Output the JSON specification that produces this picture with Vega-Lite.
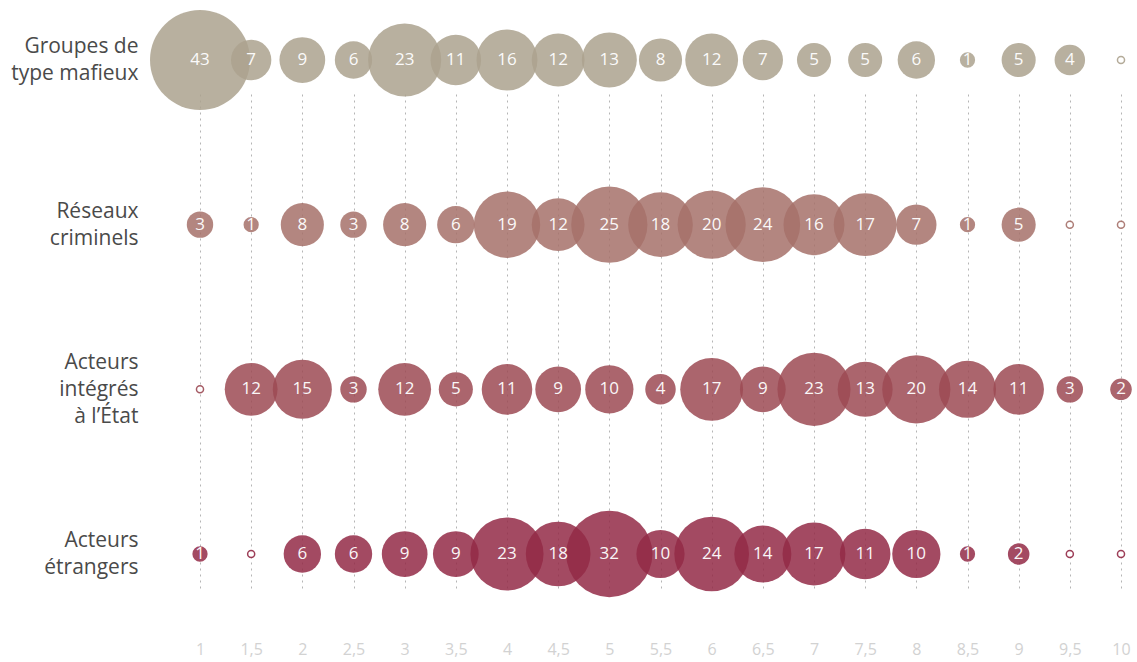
{
  "$schema": "https://vega.github.io/schema/vega-lite/v6.json",
  "autosize": {"type": "none"},
  "padding": {"left": 200, "top": 15, "right": 16, "bottom": 29},
  "width": 921,
  "height": 618,
  "background": "white",
  "config": {"view": {"stroke": null}, "font": "Open Sans"},
  "data": {"values": [
    {"group": "Groupes de type mafieux", "x": 1, "value": 43},
    {"group": "Groupes de type mafieux", "x": 1.5, "value": 7},
    {"group": "Groupes de type mafieux", "x": 2, "value": 9},
    {"group": "Groupes de type mafieux", "x": 2.5, "value": 6},
    {"group": "Groupes de type mafieux", "x": 3, "value": 23},
    {"group": "Groupes de type mafieux", "x": 3.5, "value": 11},
    {"group": "Groupes de type mafieux", "x": 4, "value": 16},
    {"group": "Groupes de type mafieux", "x": 4.5, "value": 12},
    {"group": "Groupes de type mafieux", "x": 5, "value": 13},
    {"group": "Groupes de type mafieux", "x": 5.5, "value": 8},
    {"group": "Groupes de type mafieux", "x": 6, "value": 12},
    {"group": "Groupes de type mafieux", "x": 6.5, "value": 7},
    {"group": "Groupes de type mafieux", "x": 7, "value": 5},
    {"group": "Groupes de type mafieux", "x": 7.5, "value": 5},
    {"group": "Groupes de type mafieux", "x": 8, "value": 6},
    {"group": "Groupes de type mafieux", "x": 8.5, "value": 1},
    {"group": "Groupes de type mafieux", "x": 9, "value": 5},
    {"group": "Groupes de type mafieux", "x": 9.5, "value": 4},
    {"group": "Groupes de type mafieux", "x": 10, "value": 0},
    {"group": "Réseaux criminels", "x": 1, "value": 3},
    {"group": "Réseaux criminels", "x": 1.5, "value": 1},
    {"group": "Réseaux criminels", "x": 2, "value": 8},
    {"group": "Réseaux criminels", "x": 2.5, "value": 3},
    {"group": "Réseaux criminels", "x": 3, "value": 8},
    {"group": "Réseaux criminels", "x": 3.5, "value": 6},
    {"group": "Réseaux criminels", "x": 4, "value": 19},
    {"group": "Réseaux criminels", "x": 4.5, "value": 12},
    {"group": "Réseaux criminels", "x": 5, "value": 25},
    {"group": "Réseaux criminels", "x": 5.5, "value": 18},
    {"group": "Réseaux criminels", "x": 6, "value": 20},
    {"group": "Réseaux criminels", "x": 6.5, "value": 24},
    {"group": "Réseaux criminels", "x": 7, "value": 16},
    {"group": "Réseaux criminels", "x": 7.5, "value": 17},
    {"group": "Réseaux criminels", "x": 8, "value": 7},
    {"group": "Réseaux criminels", "x": 8.5, "value": 1},
    {"group": "Réseaux criminels", "x": 9, "value": 5},
    {"group": "Réseaux criminels", "x": 9.5, "value": 0},
    {"group": "Réseaux criminels", "x": 10, "value": 0},
    {"group": "Acteurs intégrés à l’État", "x": 1, "value": 0},
    {"group": "Acteurs intégrés à l’État", "x": 1.5, "value": 12},
    {"group": "Acteurs intégrés à l’État", "x": 2, "value": 15},
    {"group": "Acteurs intégrés à l’État", "x": 2.5, "value": 3},
    {"group": "Acteurs intégrés à l’État", "x": 3, "value": 12},
    {"group": "Acteurs intégrés à l’État", "x": 3.5, "value": 5},
    {"group": "Acteurs intégrés à l’État", "x": 4, "value": 11},
    {"group": "Acteurs intégrés à l’État", "x": 4.5, "value": 9},
    {"group": "Acteurs intégrés à l’État", "x": 5, "value": 10},
    {"group": "Acteurs intégrés à l’État", "x": 5.5, "value": 4},
    {"group": "Acteurs intégrés à l’État", "x": 6, "value": 17},
    {"group": "Acteurs intégrés à l’État", "x": 6.5, "value": 9},
    {"group": "Acteurs intégrés à l’État", "x": 7, "value": 23},
    {"group": "Acteurs intégrés à l’État", "x": 7.5, "value": 13},
    {"group": "Acteurs intégrés à l’État", "x": 8, "value": 20},
    {"group": "Acteurs intégrés à l’État", "x": 8.5, "value": 14},
    {"group": "Acteurs intégrés à l’État", "x": 9, "value": 11},
    {"group": "Acteurs intégrés à l’État", "x": 9.5, "value": 3},
    {"group": "Acteurs intégrés à l’État", "x": 10, "value": 2},
    {"group": "Acteurs étrangers", "x": 1, "value": 1},
    {"group": "Acteurs étrangers", "x": 1.5, "value": 0},
    {"group": "Acteurs étrangers", "x": 2, "value": 6},
    {"group": "Acteurs étrangers", "x": 2.5, "value": 6},
    {"group": "Acteurs étrangers", "x": 3, "value": 9},
    {"group": "Acteurs étrangers", "x": 3.5, "value": 9},
    {"group": "Acteurs étrangers", "x": 4, "value": 23},
    {"group": "Acteurs étrangers", "x": 4.5, "value": 18},
    {"group": "Acteurs étrangers", "x": 5, "value": 32},
    {"group": "Acteurs étrangers", "x": 5.5, "value": 10},
    {"group": "Acteurs étrangers", "x": 6, "value": 24},
    {"group": "Acteurs étrangers", "x": 6.5, "value": 14},
    {"group": "Acteurs étrangers", "x": 7, "value": 17},
    {"group": "Acteurs étrangers", "x": 7.5, "value": 11},
    {"group": "Acteurs étrangers", "x": 8, "value": 10},
    {"group": "Acteurs étrangers", "x": 8.5, "value": 1},
    {"group": "Acteurs étrangers", "x": 9, "value": 2},
    {"group": "Acteurs étrangers", "x": 9.5, "value": 0},
    {"group": "Acteurs étrangers", "x": 10, "value": 0}
  ]},
  "encoding": {
    "x": {
      "field": "x", "type": "quantitative",
      "scale": {"domain": [1, 10], "nice": false, "zero": false},
      "axis": {
        "title": null, "domain": false, "ticks": false,
        "values": [1, 1.5, 2, 2.5, 3, 3.5, 4, 4.5, 5, 5.5, 6, 6.5, 7, 7.5, 8, 8.5, 9, 9.5, 10],
        "labelExpr": "replace(format(datum.value, ''), '.', ',')",
        "labelFontSize": 16, "labelColor": "#d2d2d2", "labelPadding": 8,
        "labelFont": "Open Sans", "labelFlush": false, "labelOverlap": false,
        "grid": true, "gridColor": "#b5b5b5", "gridDash": [2, 4], "gridWidth": 1
      }
    },
    "y": {
      "field": "group", "type": "nominal",
      "scale": {"type": "point", "padding": 0, "domain": ["Groupes de type mafieux", "Réseaux criminels", "Acteurs intégrés à l’État", "Acteurs étrangers"], "range": [45, 539]},
      "axis": {
        "title": null, "domain": false, "ticks": false, "grid": false,
        "labelExpr": "datum.value == 'Groupes de type mafieux' ? ['Groupes de', 'type mafieux'] : datum.value == 'Réseaux criminels' ? ['Réseaux', 'criminels'] : datum.value == 'Acteurs intégrés à l’État' ? ['Acteurs', 'intégrés', 'à l’État'] : ['Acteurs', 'étrangers']",
        "labelOffset": {"condition": {"test": "datum.value == 'Acteurs intégrés à l’État'", "value": -27}, "value": -13.5},
        "labelFontSize": 21, "labelColor": "#4a4a4a", "labelPadding": 62,
        "labelLineHeight": 27, "labelFont": "Open Sans", "labelFontWeight": 500,
        "labelBaseline": "middle", "labelLimit": 300
      }
    }
  },
  "layer": [
    {
      "transform": [{"filter": "datum.value > 0"}],
      "mark": {"type": "circle", "opacity": 0.85},
      "encoding": {
        "size": {"field": "value", "type": "quantitative", "scale": {"type": "linear", "domain": [0, 43], "range": [0, 10000]}, "legend": null},
        "color": {"field": "group", "type": "nominal", "scale": {"domain": ["Groupes de type mafieux", "Réseaux criminels", "Acteurs intégrés à l’État", "Acteurs étrangers"], "range": ["#aca28e", "#a6716a", "#9c4a54", "#932a46"]}, "legend": null}
      }
    },
    {
      "transform": [{"filter": "datum.value == 0"}],
      "mark": {"type": "point", "shape": "circle", "filled": false, "fill": "white", "fillOpacity": 1, "size": 50, "strokeWidth": 1.5, "opacity": 0.9},
      "encoding": {
        "color": {"field": "group", "type": "nominal", "legend": null}
      }
    },
    {
      "transform": [{"filter": "datum.value > 0"}],
      "mark": {"type": "text", "color": "white", "fontSize": 17, "font": "Open Sans", "baseline": "middle", "align": "center", "opacity": 0.95},
      "encoding": {
        "text": {"field": "value", "type": "quantitative"}
      }
    }
  ]
}
